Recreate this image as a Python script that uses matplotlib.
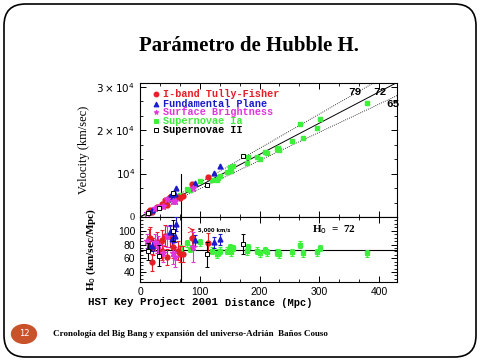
import matplotlib
matplotlib.use("Agg")
import matplotlib.pyplot as plt
import numpy as np
from matplotlib.patches import FancyBboxPatch, Circle
from matplotlib.ticker import AutoMinorLocator, FixedLocator

# ---------------- data ----------------
tf_d = [15, 17, 20, 22, 28, 36, 36, 42, 45, 50, 55, 64, 67, 72, 87, 113]
tf_v = [1300, 1500, 1100, 1700, 2300, 3100, 2500, 3900, 2800, 4500, 4200, 4500, 4400, 4800, 7700, 9300]
tf_h = [88, 90, 54, 77, 83, 86, 70, 93, 62, 92, 76, 71, 66, 66, 89, 82]
tf_e = [15, 15, 12, 12, 15, 15, 12, 15, 12, 15, 15, 14, 12, 12, 14, 15]

fp_d = [15, 20, 50, 53, 58, 61, 92, 123, 134]
fp_v = [1170, 1560, 4900, 4660, 5390, 6710, 7910, 10200, 11790]
fp_h = [78, 78, 98, 88, 93, 110, 86, 83, 88]
fp_e = [8, 8, 10, 10, 10, 10, 8, 8, 8]

sb_d = [12, 25, 30, 39, 45, 56, 58, 89]
sb_v = [1020, 2080, 2400, 2610, 4140, 3750, 3600, 6760]
sb_h = [85, 83, 80, 67, 92, 67, 62, 76]
sb_e = [10, 12, 12, 12, 15, 15, 15, 22]

sn2_d = [14, 31, 55, 112, 173]
sn2_v = [980, 1980, 5500, 7400, 14000]
sn2_h = [70, 64, 100, 66, 81]
sn2_e = [12, 15, 15, 18, 15]

sn1_d = [67, 78, 84, 100, 120, 128, 131, 134, 145, 151, 153, 156, 179, 181, 195, 200,
         209, 212, 229, 231, 233, 254, 268, 273, 296, 301, 379]
sn1_v = [4960, 6400, 6220, 8300, 8520, 8450, 8900, 9510, 10300, 11480, 10560, 11700,
         12530, 13760, 13850, 13400, 15050, 14630, 15570, 15940, 15380, 17530, 21440,
         18290, 20420, 22580, 26300]
sn1_h = [74, 82, 74, 83, 71, 66, 68, 71, 71, 76, 69, 75, 70, 76, 71, 67, 72, 69, 68,
         69, 66, 69, 80, 67, 69, 75, 67]
sn1_e = [5] * len(sn1_d)

h_lines = [65, 72, 79]
h_best = 72
legend_labels = ["I-band Tully-Fisher", "Fundamental Plane", "Surface Brightness",
                 "Supernovae Ia", "Supernovae II"]

# ---------------- figure ----------------
W, H = 480, 360
fig = plt.figure(figsize=(W / 100, H / 100), dpi=100)
fig.patch.set_facecolor("white")

def fx(px):
    return px / W

def fy(py):
    return 1 - py / H

# slide border
border = FancyBboxPatch((fx(4), fy(357)), fx(476) - fx(4), fy(4) - fy(357),
                        boxstyle="round,pad=0,rounding_size=0.045",
                        transform=fig.transFigure, fill=False, lw=1.2, ec="black",
                        mutation_aspect=480 / 360)
fig.patches.append(border)

fig.text(fx(249), fy(46), "Parámetro de Hubble H.", ha="center", va="center",
         fontsize=15, fontweight="bold", family="Liberation Serif")

# footer
circ = Circle((fx(24), fy(334)), 0.026, transform=fig.transFigure,
              color="#c9522b", zorder=3)
fig.patches.append(circ)
fig.text(fx(24), fy(334), "12", ha="center", va="center", color="white",
         fontsize=6, family="DejaVu Sans")
fig.text(fx(53), fy(334), "Cronología del Big Bang y expansión del universo-Adrián  Baños Couso",
         ha="left", va="center", fontsize=6.5, fontweight="bold", family="Liberation Serif")

# axes
left, right = 140, 397
ax1 = fig.add_axes([fx(left), fy(217), fx(right) - fx(left), fy(83) - fy(217)])
ax2 = fig.add_axes([fx(left), fy(282), fx(right) - fx(left), fy(217) - fy(282)])

XMAX = 430
colors = {"tf": "#e61e25", "fp": "#1b1bcc", "sb": "#e035dc", "sn1": "#3cf03c", "sn2": "black"}

for ax in (ax1, ax2):
    ax.set_xlim(0, XMAX)
    ax.tick_params(direction="in", top=True, right=True, length=4, width=0.7, which="major")
    ax.tick_params(direction="in", top=True, right=True, length=2, width=0.6, which="minor")
    for s in ax.spines.values():
        s.set_linewidth(0.8)
    ax.xaxis.set_major_locator(FixedLocator([0, 100, 200, 300, 400]))
    ax.xaxis.set_minor_locator(AutoMinorLocator(3))

# upper panel
ax1.set_ylim(0, 30850)
xs = np.array([0, XMAX])
for h in h_lines:
    ls = "-" if h == h_best else (0, (1, 1.5))
    ax1.plot(xs, h * xs, color="black", lw=0.7 if h == h_best else 0.6, ls=ls, zorder=1)
ax1.plot([68, 68], [0, 10000], color="black", lw=0.8)

ms = 3.5
ax1.plot(sn1_d, sn1_v, "s", color=colors["sn1"], ms=3, mec=colors["sn1"], zorder=3)
ax1.plot(tf_d, tf_v, "o", color=colors["tf"], ms=ms, zorder=4)
ax1.plot(fp_d, fp_v, "^", color=colors["fp"], ms=ms, zorder=4)
ax1.plot(sb_d, sb_v, "*", color=colors["sb"], ms=4.5, zorder=4)
ax1.plot(sn2_d, sn2_v, "s", mfc="white", mec="black", mew=0.7, ms=3, zorder=5)

ax1.set_yticks([0, 10000, 20000, 30000])
ax1.set_yticklabels(["0", r"$10^4$", r"$2\times10^4$", r"$3\times10^4$"],
                    family="Liberation Serif", fontsize=7.5)
ax1.yaxis.set_minor_locator(AutoMinorLocator(3))
ax1.tick_params(labelbottom=False)
ax1.set_ylabel("Velocity (km/sec)", family="Liberation Serif", fontsize=9)
ax1.yaxis.set_label_coords((90 - left) / (right - left), 0.5)

for lab, (d, v) in zip(["79", "72", "65"], [(360, 28700), (402, 28700), (424, 26000)]):
    ax1.text(d, v, lab, fontsize=8, fontweight="bold", family="Liberation Mono",
             ha="center", va="center")

leg = [("o", colors["tf"], colors["tf"]), ("^", colors["fp"], colors["fp"]),
       ("*", colors["sb"], colors["sb"]), ("s", colors["sn1"], colors["sn1"]),
       ("s", "white", "black")]
rows = [94.3, 103.6, 112.2, 120.8, 129.6]
for (mk, fc, ec), lab, r in zip(leg, legend_labels, rows):
    yy = 1 - (r - 83) / (217 - 83)
    ax1.plot([(156 - left) / (right - left)], [yy], mk, mfc=fc, mec=ec, ms=3.5,
             transform=ax1.transAxes, clip_on=False, mew=0.7)
    ax1.text((163 - left) / (right - left), yy, lab, transform=ax1.transAxes,
             color=ec if fc == "white" else fc, fontsize=7.3, fontweight="bold",
             family="Liberation Mono", va="center", ha="left")

# lower panel
ax2.set_ylim(25.5, 120)
ax2.axhline(h_best, color="black", lw=0.8, zorder=1)
ax2.axvline(68, color="black", lw=0.8, zorder=1)
ekw = dict(capsize=1.5, elinewidth=0.8, capthick=0.8, ls="none")
ax2.errorbar(sn1_d, sn1_h, yerr=sn1_e, fmt="s", color=colors["sn1"], ms=3, zorder=3, **ekw)
ax2.errorbar(tf_d, tf_h, yerr=tf_e, fmt="o", color=colors["tf"], ms=ms, zorder=4, **ekw)
ax2.errorbar(sb_d, sb_h, yerr=sb_e, fmt="*", color=colors["sb"], ms=4.5, zorder=4, **ekw)
ax2.errorbar(fp_d, fp_h, yerr=fp_e, fmt="^", color=colors["fp"], ms=ms, zorder=4, **ekw)
ax2.errorbar(sn2_d, sn2_h, yerr=sn2_e, fmt="s", color="black", mfc="white", ms=3,
             mew=0.7, zorder=5, **ekw)

ax2.set_yticks([40, 60, 80, 100])
ax2.yaxis.set_minor_locator(AutoMinorLocator(4))
for lab in ax2.get_yticklabels() + ax2.get_xticklabels():
    lab.set_fontsize(7.5)
    lab.set_family("Liberation Sans")
ax2.set_ylabel(r"H$_{\rm o}$ (km/sec/Mpc)", family="Liberation Serif", fontsize=8,
               fontweight="bold")
ax2.yaxis.set_label_coords((98 - left) / (right - left), 0.5)
ax2.set_xlabel("Distance (Mpc)", family="Liberation Mono", fontsize=7.5, fontweight="bold",
               labelpad=1)

ax2.annotate("", xy=(96, 101), xytext=(82, 101),
             arrowprops=dict(arrowstyle="->", lw=0.6, color=colors["tf"]))
ax2.text(97, 101, "5,000 km/s", fontsize=3.8, fontweight="bold", va="center",
         family="DejaVu Sans")
ax2.text(325, 101, r"H$_{\rm o}$  =  72", fontsize=8, fontweight="bold",
         family="Liberation Serif", ha="center", va="center")

fig.text(fx(88), fy(302), "HST Key Project 2001", fontsize=7.8, fontweight="bold",
         family="Liberation Mono", ha="left", va="center")

fig.savefig("out.png", dpi=100)
